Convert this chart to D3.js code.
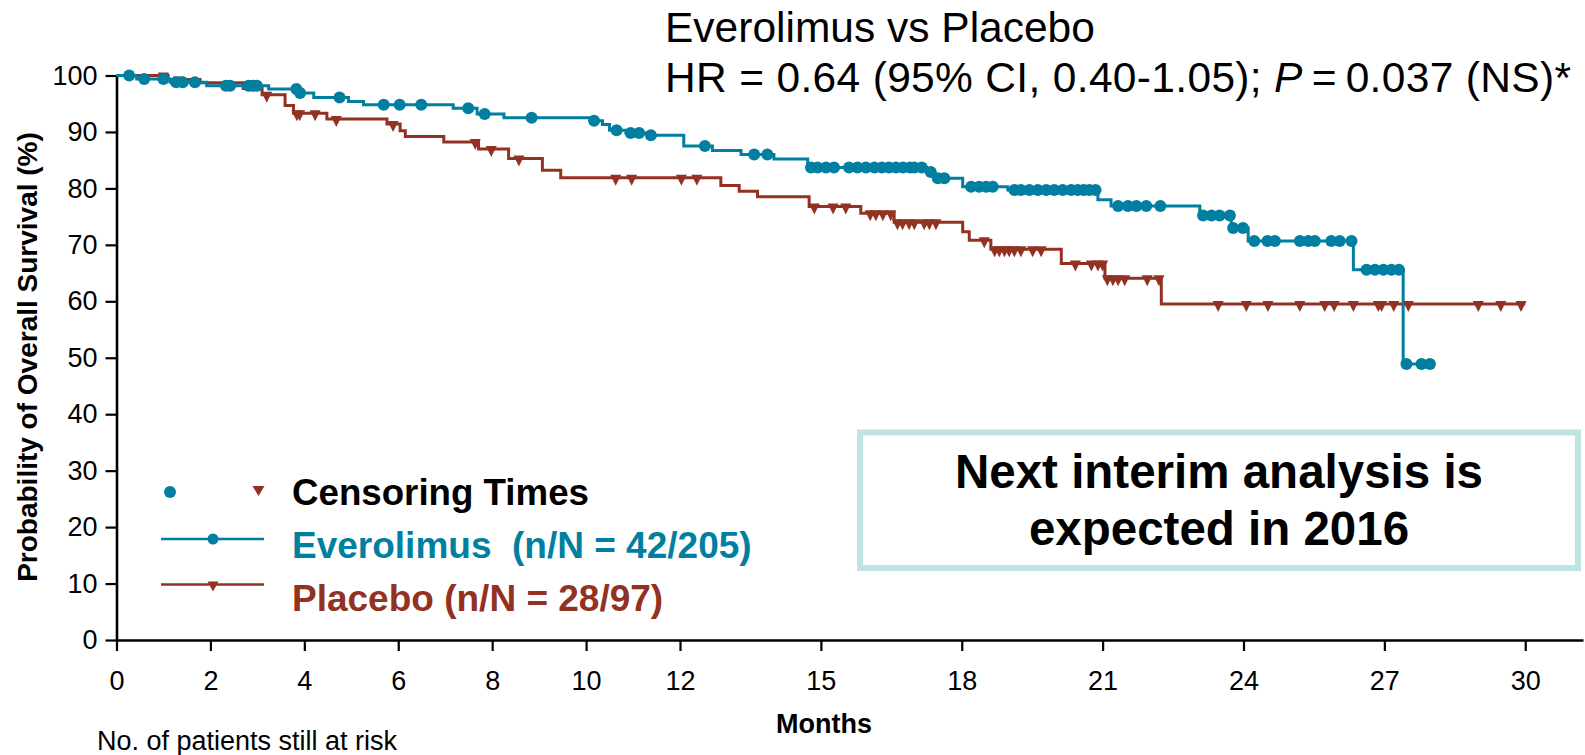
<!DOCTYPE html>
<html><head><meta charset="utf-8">
<script src="https://cdn.jsdelivr.net/npm/d3@7"></script>
<style>
html,body{margin:0;padding:0;background:#fff;}
svg{display:block;font-family:"Liberation Sans",Arial,Helvetica,sans-serif;}
</style></head>
<body><svg id="chart" width="1585" height="755"></svg>
<script>
// ---- data ----
const xTicks = [0, 2, 4, 6, 8, 10, 12, 15, 18, 21, 24, 27, 30];
const yTicks = [0, 10, 20, 30, 40, 50, 60, 70, 80, 90, 100];

const evStepTimes = [0, 0.43, 1.14, 1.92, 3.24, 3.87, 4.2, 4.94, 5.26, 7.17, 7.68, 8.25, 10.1, 10.35, 10.5, 10.85, 11.3, 12.08, 12.69, 13.3, 14.0, 14.72, 17.25, 17.42, 18.02, 18.98, 20.9, 21.18, 23.07, 23.74, 24.1, 26.34, 27.4];
const evStepSurv  = [100, 99.4, 98.8, 98.2, 97.6, 96.9, 96.1, 95.4, 94.8, 94.2, 93.2, 92.5, 92.0, 91.3, 90.3, 89.8, 89.4, 87.5, 86.7, 86.0, 85.2, 83.7, 82.9, 81.8, 80.3, 79.7, 78.0, 76.9, 75.2, 73.0, 70.7, 65.6, 48.9];
const evEndTime = 28.0;
const evCensor = [0.27, 0.59, 1.0, 1.27, 1.41, 1.67, 2.33, 2.42, 2.81, 2.9, 2.99, 3.83, 3.91, 4.75, 5.69, 6.03, 6.49, 7.49, 7.84, 8.84, 10.17, 10.65, 10.95, 11.13, 11.38, 12.53, 13.58, 13.86, 14.79, 14.93, 15.11, 15.28, 15.6, 15.78, 15.96, 16.14, 16.3, 16.45, 16.6, 16.75, 16.9, 16.99, 17.15, 17.34, 17.49, 17.63, 18.2, 18.37, 18.52, 18.66, 19.12, 19.26, 19.44, 19.62, 19.8, 19.97, 20.15, 20.33, 20.47, 20.6, 20.72, 20.85, 21.33, 21.54, 21.72, 21.93, 22.23, 23.14, 23.32, 23.49, 23.71, 23.78, 23.99, 24.23, 24.51, 24.67, 25.2, 25.38, 25.52, 25.87, 26.05, 26.3, 26.62, 26.8, 26.98, 27.15, 27.31, 27.47, 27.79, 27.97];

const pbStepTimes = [0, 1.1, 1.78, 2.7, 3.1, 3.59, 3.77, 4.48, 5.76, 6.04, 6.15, 6.97, 7.71, 8.35, 9.07, 9.46, 12.87, 13.26, 13.65, 14.75, 15.85, 16.56, 18.02, 18.16, 18.62, 20.12, 21.05, 22.25];
const pbStepSurv  = [100, 99.3, 98.7, 97.7, 96.6, 94.7, 93.3, 92.3, 91.4, 90.2, 89.2, 88.2, 87.0, 85.3, 83.2, 81.9, 80.5, 79.5, 78.5, 76.8, 75.6, 74.0, 72.3, 70.8, 69.2, 66.7, 64.1, 59.5];
const pbEndTime = 30.0;
const pbCensor = [1.0, 1.32, 3.2, 3.84, 3.9, 4.23, 4.68, 5.89, 7.64, 7.98, 8.57, 10.63, 10.97, 12.03, 12.36, 14.86, 15.26, 15.53, 16.05, 16.17, 16.32, 16.49, 16.63, 16.74, 16.88, 16.99, 17.2, 17.31, 17.45, 18.48, 18.7, 18.8, 18.91, 19.01, 19.12, 19.26, 19.51, 19.69, 20.42, 20.76, 20.9, 21.0, 21.1, 21.22, 21.33, 21.47, 21.95, 22.2, 23.46, 24.06, 24.52, 25.2, 25.73, 25.93, 26.34, 26.87, 26.94, 27.2, 27.51, 29.0, 29.48, 29.91];

const titleLine1 = "Everolimus vs Placebo";
const legendLabels = ["Censoring Times", "Everolimus  (n/N = 42/205)", "Placebo (n/N = 28/97)"];
const boxLines = ["Next interim analysis is", "expected in 2016"];

// ---- styling ----
const TEAL = "#007fa0", RED = "#933122", BOXC = "#bfe2e5";
const svg = d3.select("#chart");
svg.append("rect").attr("width",1585).attr("height",755).attr("fill","#fff");

const x = d3.scaleLinear().domain([0, 31.23]).range([116.5, 1583]);
const y = d3.scaleLinear().domain([0, 100]).range([640, 75.5]);

function survAt(times, surv, t){
  const i = d3.bisectRight(times, t) - 1;
  return surv[Math.max(0,i)];
}
function stepPoints(times, surv, end){
  const pts = times.map((t,i)=>[t, surv[i]]);
  pts.push([end, surv[surv.length-1]]);
  return pts;
}
const line = d3.line().x(d=>x(d[0])).y(d=>y(d[1])).curve(d3.curveStepAfter);

// axes
const yAxis = svg.append("g").attr("transform",`translate(${x(0)},0)`)
  .call(d3.axisLeft(y).tickValues(yTicks).tickSize(11).tickSizeOuter(0).tickPadding(8));
const xAxis = svg.append("g").attr("transform",`translate(0,${y(0)})`)
  .call(d3.axisBottom(x).tickValues(xTicks).tickSize(11).tickSizeOuter(0).tickPadding(20));
[yAxis,xAxis].forEach(g=>{
  g.selectAll("path.domain").attr("stroke","#000").attr("stroke-width",2.6);
  g.selectAll(".tick line").attr("stroke","#000").attr("stroke-width",2.2);
  g.selectAll(".tick text").attr("fill","#000").style("font-size","27px")
   .style("font-family",'"Liberation Sans",Arial,sans-serif');
});

// curves
const tri = (cx, cy, hw, top, bot) => `M${cx-hw},${cy-top}L${cx+hw},${cy-top}L${cx},${cy+bot}Z`;

svg.append("path").attr("d", line(stepPoints(pbStepTimes, pbStepSurv, pbEndTime)))
  .attr("fill","none").attr("stroke",RED).attr("stroke-width",3);
svg.append("path").attr("d", line(stepPoints(evStepTimes, evStepSurv, evEndTime)))
  .attr("fill","none").attr("stroke",TEAL).attr("stroke-width",3);

svg.append("g").selectAll("path").data(pbCensor).join("path")
  .attr("d", t => tri(x(t), y(survAt(pbStepTimes,pbStepSurv,t)), 5.5, 3, 8))
  .attr("fill",RED);
svg.append("g").selectAll("circle").data(evCensor).join("circle")
  .attr("cx", t=>x(t)).attr("cy", t=>y(survAt(evStepTimes,evStepSurv,t)))
  .attr("r",6).attr("fill",TEAL);

// title
svg.append("text").attr("x",665).attr("y",42).attr("fill","#000")
  .style("font-size","42.5px").text(titleLine1);
const t2 = svg.append("text").attr("x",665).attr("y",92).attr("fill","#000").style("font-size","42.5px")
  .attr("textLength",906).attr("lengthAdjust","spacing");
t2.append("tspan").text("HR = 0.64 (95% CI, 0.40-1.05); ");
t2.append("tspan").style("font-style","italic").text("P");
t2.append("tspan").text("\u2009=\u20090.037 (NS)*");

// axis titles
svg.append("text").attr("transform","translate(37,357) rotate(-90)").attr("text-anchor","middle")
  .style("font-size","28px").style("font-weight","bold").text("Probability of Overall Survival (%)");
svg.append("text").attr("x",824).attr("y",733).attr("text-anchor","middle")
  .style("font-size","27px").style("font-weight","bold").text("Months");
svg.append("text").attr("x",97).attr("y",750)
  .style("font-size","27px").text("No. of patients still at risk");

// legend
const lg = svg.append("g");
lg.append("circle").attr("cx",170).attr("cy",492).attr("r",6).attr("fill",TEAL);
lg.append("path").attr("d",tri(258.5,489,6,3,7)).attr("fill",RED);
lg.append("text").attr("x",292).attr("y",505).style("font-size","36.7px").style("font-weight","bold")
  .attr("fill","#000").text(legendLabels[0]);
lg.append("line").attr("x1",161).attr("x2",264).attr("y1",539).attr("y2",539).attr("stroke",TEAL).attr("stroke-width",2.6);
lg.append("circle").attr("cx",213).attr("cy",539).attr("r",5.5).attr("fill",TEAL);
lg.append("text").attr("x",292).attr("y",558).style("font-size","37px").style("font-weight","bold")
  .style("white-space","pre").attr("fill",TEAL).text(legendLabels[1]);
lg.append("line").attr("x1",161).attr("x2",264).attr("y1",584.5).attr("y2",584.5).attr("stroke",RED).attr("stroke-width",2.6);
lg.append("path").attr("d",tri(213,584.5,5.5,3,7)).attr("fill",RED);
lg.append("text").attr("x",292).attr("y",611).style("font-size","37px").style("font-weight","bold")
  .attr("fill",RED).text(legendLabels[2]);

// annotation box
svg.append("rect").attr("x",860).attr("y",432.5).attr("width",718).attr("height",135.5)
  .attr("fill","#fff").attr("stroke",BOXC).attr("stroke-width",6);
boxLines.forEach((s,i)=>{
  svg.append("text").attr("x",1219).attr("y",488 + i*57).attr("text-anchor","middle")
    .style("font-size","47.5px").style("font-weight","bold").attr("fill","#000").text(s);
});
</script></body></html>
